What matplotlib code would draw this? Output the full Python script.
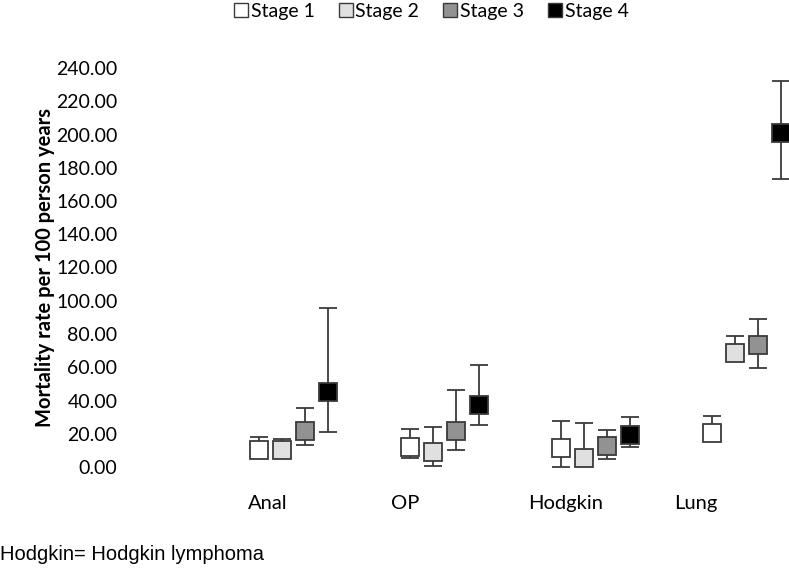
import matplotlib
matplotlib.use("Agg")
import matplotlib.pyplot as plt
from matplotlib.lines import Line2D
import numpy as np

# values
cancers = ["Anal", "OP", "Hodgkin", "Lung"]
stages = ["Stage 1", "Stage 2", "Stage 3", "Stage 4"]
rate = {
    "Stage 1": [10.2, 12.2, 11.4, 20.6],
    "Stage 2": [10.2, 9.2, 5.3, 68.8],
    "Stage 3": [21.7, 21.8, 12.8, 73.2],
    "Stage 4": [45.3, 37.3, 19.4, 200.8],
}
ci_low = {
    "Stage 1": [6.0, 5.2, 0.0, 16.0],
    "Stage 2": [6.0, 0.6, 1.0, 64.0],
    "Stage 3": [13.2, 10.0, 5.0, 59.5],
    "Stage 4": [21.3, 25.4, 12.2, 173.4],
}
ci_high = {
    "Stage 1": [18.0, 23.0, 27.9, 30.9],
    "Stage 2": [16.8, 24.2, 26.7, 79.0],
    "Stage 3": [35.7, 46.3, 22.5, 89.2],
    "Stage 4": [95.6, 61.5, 30.3, 232.4],
}
yticks = np.arange(0, 241, 20)
footnote = "Hodgkin= Hodgkin lymphoma"

faces = ["#ffffff", "#e0e0e0", "#929292", "#000000"]
EDGE = "#3a3a3a"
FONT = "Lato"

W, H = 789, 570
fig = plt.figure(figsize=(W / 100, H / 100), dpi=100)
# axes placed in pixel terms: x 130..789, y 68..467
ax = fig.add_axes([130 / W, 1 - 467 / H, (W - 130) / W, (467 - 68) / H])

step = 23 / 151
gx = np.arange(len(cancers))
for j, st in enumerate(stages):
    x = gx + j * step
    y = np.array(rate[st])
    lo = y - np.array(ci_low[st])
    hi = np.array(ci_high[st]) - y
    ax.errorbar(x, y, yerr=[lo, hi], fmt="none", ecolor=EDGE, elinewidth=1.3,
                capsize=6.5, capthick=1.3, zorder=2)
    ax.plot(x, y, ls="none", marker="s", ms=13.5, mfc=faces[j], mec=EDGE,
            mew=1.3, zorder=3, clip_on=False)

ax.set_xlim(-129 / 151, 530 / 151)
ax.set_ylim(0, 240)
ax.set_yticks(yticks)
ax.set_yticklabels([f"{v:.2f}" for v in yticks], fontsize=14, family=FONT)
ax.set_xticks([0.06, 0.97, 2.03, 2.89])
ax.set_xticklabels(cancers, fontsize=14.5, family=FONT)
ax.tick_params(axis="y", length=0, pad=9)
ax.tick_params(axis="x", length=0, pad=20)
for s in ax.spines.values():
    s.set_visible(False)
ax.set_ylabel("Mortality rate per 100 person years", fontsize=14.5, family=FONT,
              fontweight="bold", labelpad=1)

handles = [Line2D([], [], ls="none", marker="s", ms=10.5, mfc=faces[j], mec=EDGE,
                  mew=1.0) for j in range(4)]
fig.legend(handles, stages, loc="center", bbox_to_anchor=(430 / W, 1 - 11 / H),
           ncol=4, frameon=False, prop={"family": FONT, "size": 14},
           handletextpad=0.0, columnspacing=1.1, handlelength=1.0)

fig.text(0, 1 - 554 / H, footnote, fontsize=14.5, family="Liberation Sans",
         va="center", ha="left")

fig.savefig("out.png", dpi=100, facecolor="white")
